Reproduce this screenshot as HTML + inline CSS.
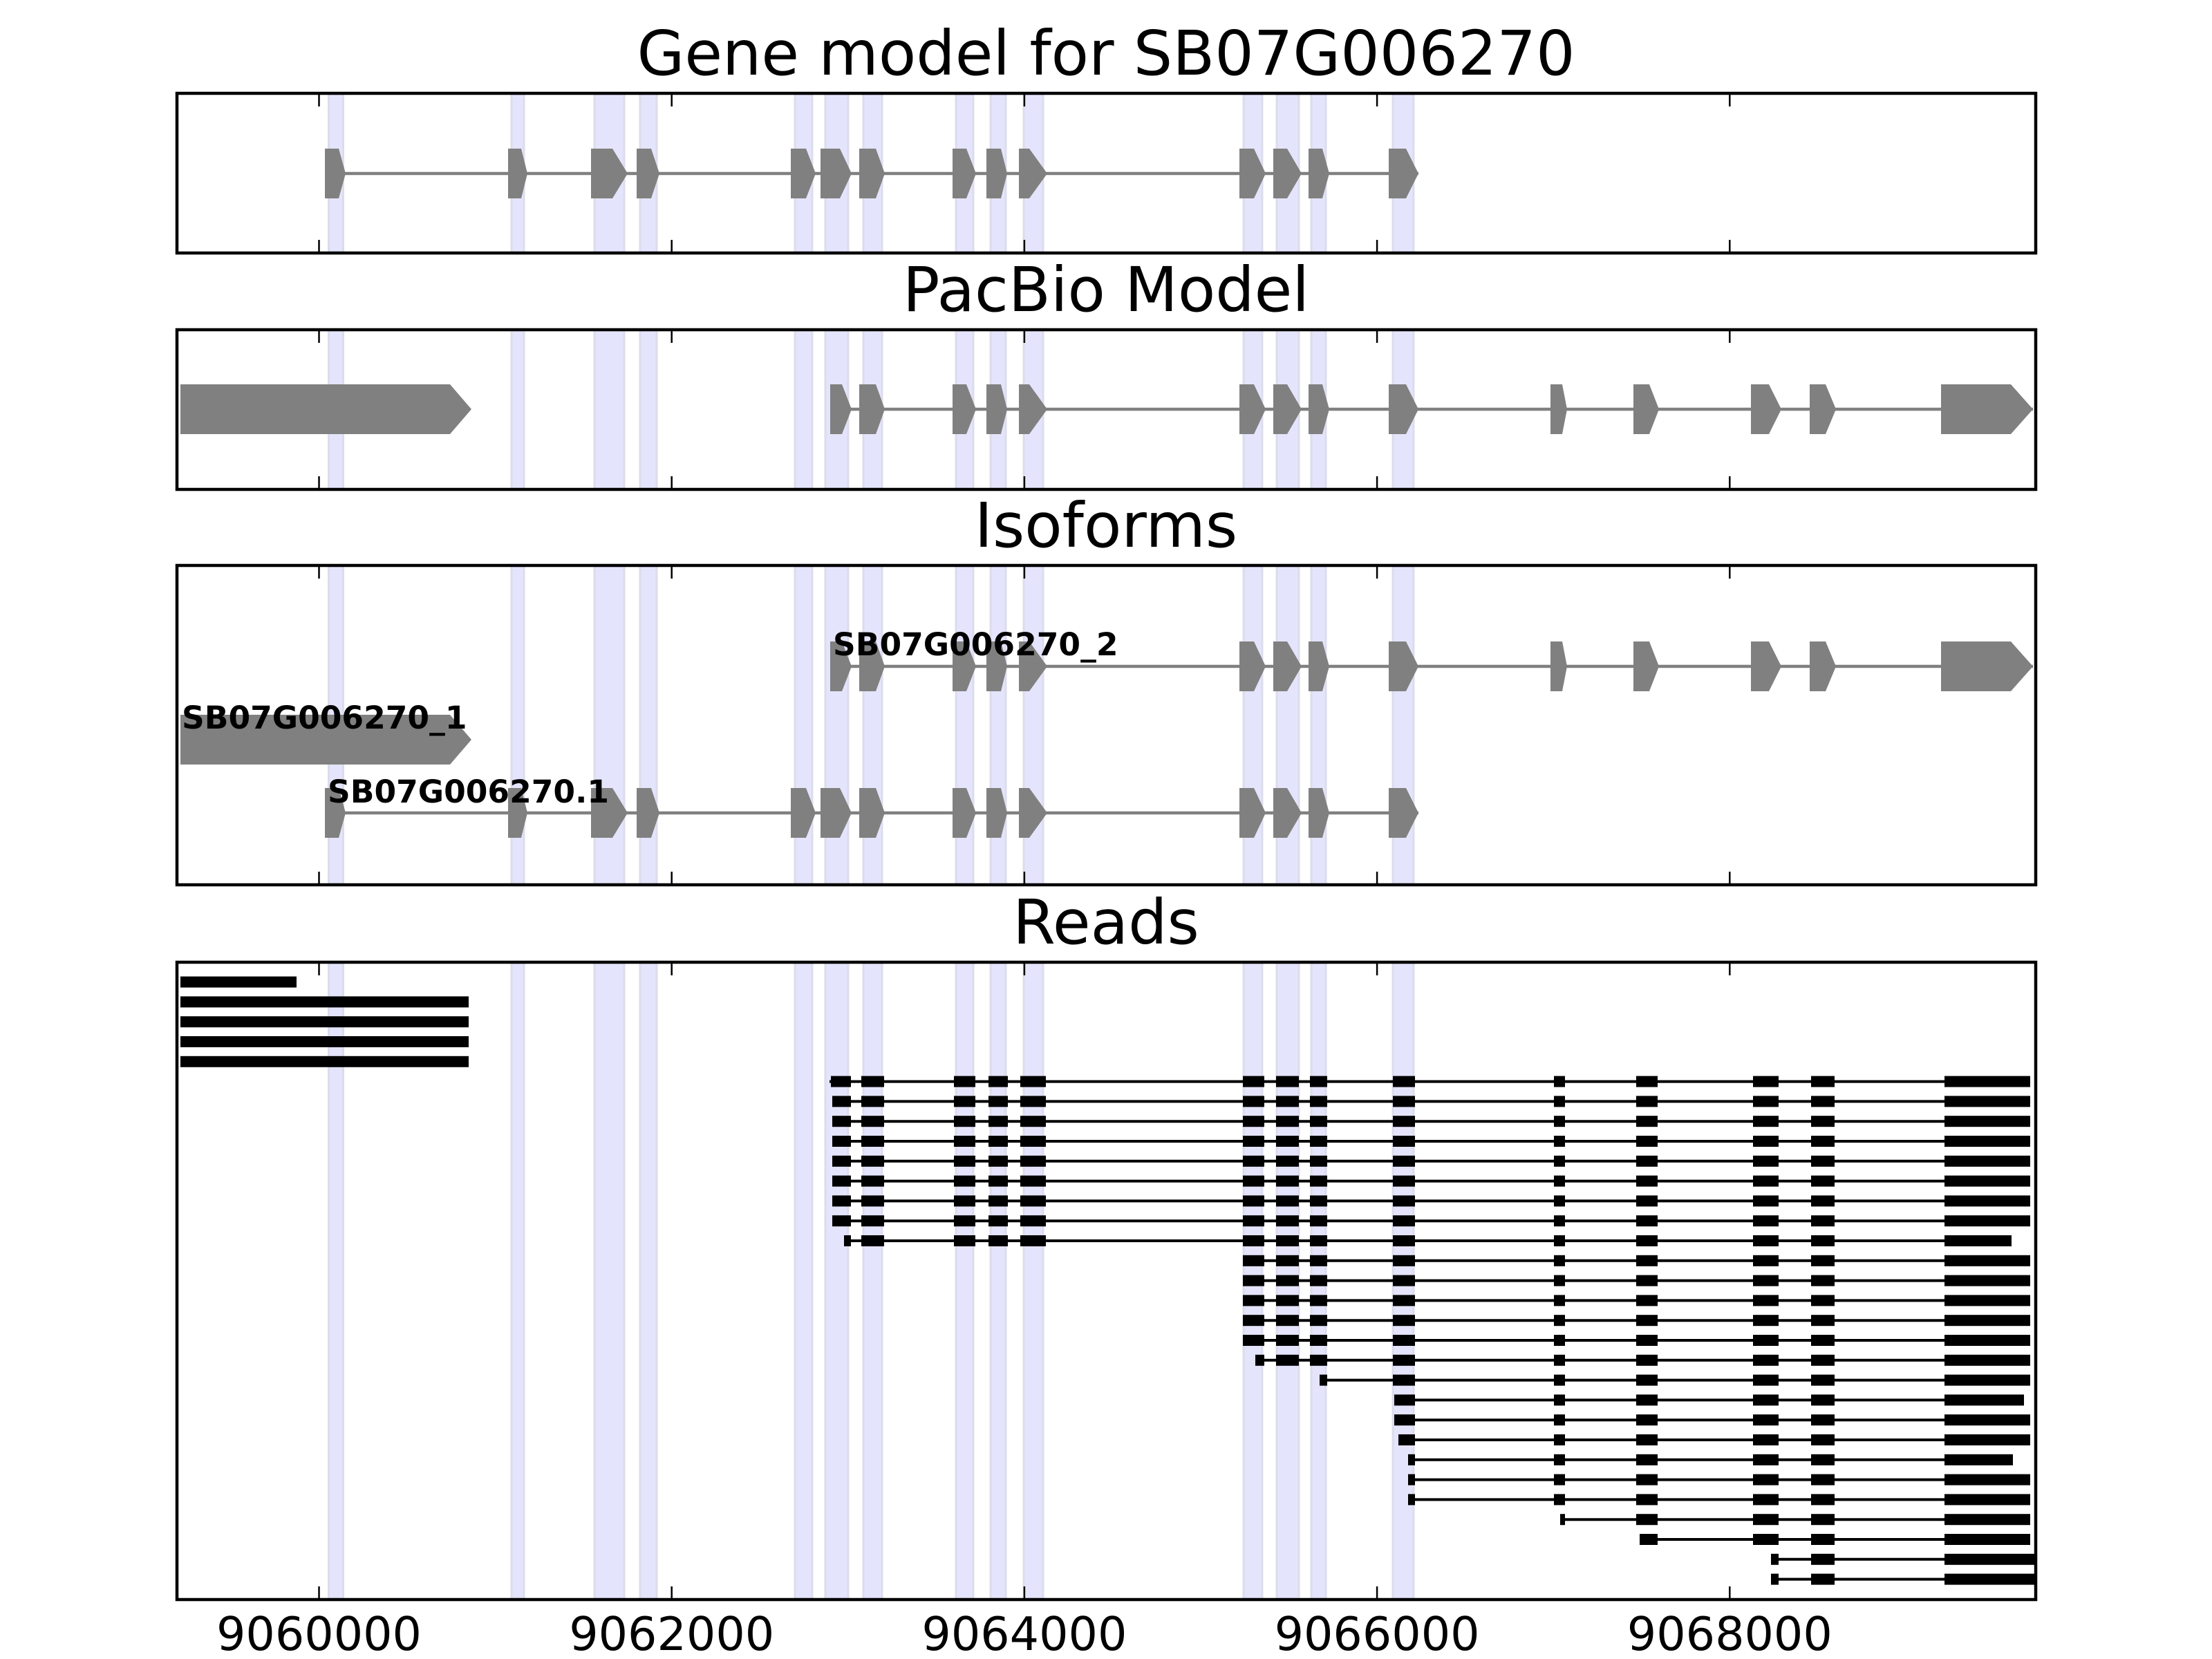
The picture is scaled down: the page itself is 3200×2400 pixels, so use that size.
<!DOCTYPE html>
<html><head><meta charset="utf-8"><style>
html,body{margin:0;padding:0;background:#fff;}
svg{display:block;}
text{font-family:"DejaVu Sans","Liberation Sans",sans-serif;}
</style></head><body>
<svg id="s" xmlns="http://www.w3.org/2000/svg" width="3200" height="2400" viewBox="0 0 3200 2400">
<rect width="3200" height="2400" fill="#fff"/>
<g id="bg"></g>
<g id="fg"></g>
<g font-size="88.9" text-anchor="middle" fill="#000">
<text x="1600" y="108">Gene model for SB07G006270</text>
<text x="1600" y="450">PacBio Model</text>
<text x="1600" y="791">Isoforms</text>
<text x="1600" y="1365">Reads</text>
</g>
<g font-size="45.5" font-weight="bold" fill="#000">
<text x="1205" y="948">SB07G006270_2</text>
<text x="263" y="1054">SB07G006270_1</text>
<text x="474" y="1161">SB07G006270.1</text>
</g>
<g font-size="66.7" text-anchor="middle" fill="#000">
<text x="461.5" y="2387">9060000</text>
<text x="971.7" y="2387">9062000</text>
<text x="1481.9" y="2387">9064000</text>
<text x="1992.1" y="2387">9066000</text>
<text x="2502.3" y="2387">9068000</text>
</g>
</svg>
<script>
(function(){
var NS="http://www.w3.org/2000/svg";
var bg=document.getElementById("bg"),fg=document.getElementById("fg");
function el(p,t,a){var e=document.createElementNS(NS,t);for(var k in a)e.setAttribute(k,a[k]);p.appendChild(e);return e;}
var X0=256,X1=2945;
var P=[[135,366],[477,708],[818,1280],[1392,2314]];
var B=[[475.5,496.5],[740,758],[860,903],[926,950],[1150,1175],[1194,1227],[1249,1276],[1383,1408],[1433,1455],[1481,1509],[1799,1826],[1847,1879],[1897,1918],[2015,2045]];
P.forEach(function(p){B.forEach(function(b){el(bg,"rect",{x:b[0],y:p[0],width:b[1]-b[0],height:p[1]-p[0],fill:"#e4e4fc",stroke:"#dcdcec","stroke-width":3});});});
var GR="#808080";
function ex(e,yc){var h=36;el(fg,"polygon",{points:e[0]+","+(yc-h)+" "+e[1]+","+(yc-h)+" "+e[2]+","+yc+" "+e[1]+","+(yc+h)+" "+e[0]+","+(yc+h),fill:GR});}
function line(a,b,y,c,w){el(fg,"line",{x1:a,x2:b,y1:y,y2:y,stroke:c,"stroke-width":w});}
var G=[[470,490,500],[735,754,763],[855,886,908],[921,942,954],[1144,1166,1180],[1187,1215,1232],[1243,1267,1280],[1378,1398,1412],[1427,1448,1457],[1474,1489,1515],[1793,1814,1831],[1842,1862,1883],[1893,1913,1923],[2009,2034,2052]];
var PB=[[1201,1218,1232]].concat(G.slice(6)).concat([[2243,2260,2267],[2363,2386,2400],[2533,2559,2577],[2618,2641,2656],[2808,2909,2941]]);
function model(L,yc){line(L[0][0],L[L.length-1][2],yc,GR,4.6);L.forEach(function(e){ex(e,yc);});}
model(G,251);
model(PB,592);
ex([261,651,682],592);
model(PB,964);
ex([261,651,682],1070);
model(G,1176);
// reads
var RB=[[1202,1231],[1246,1279],[1380,1411],[1430,1458],[1476,1513],[1798,1829],[1846,1879],[1895,1920],[2015,2047],[2248,2264],[2367,2398],[2536,2573],[2620,2654],[2813,2937]];
function ry(k){return 1420.6+28.8*k;}
function blk(a,b,y){el(fg,"rect",{x:a,y:y-8,width:b-a,height:16,fill:"#000"});}
blk(261,429,ry(0));for(var k=1;k<5;k++)blk(261,678,ry(k));
var rows=[];
for(var i=0;i<26;i++){var s,e=2937;
 if(i==0)s=1200;else if(i<8)s=1204;else if(i==8){s=1221;e=2910;}
 else if(i<14)s=1798;else if(i==14)s=1816;else if(i==15)s=1909;
 else if(i==16){s=2017;e=2928;}else if(i==17)s=2017;else if(i==18)s=2023;
 else if(i==19){s=2037;e=2912;}else if(i<22)s=2037;else if(i==22)s=2257;
 else if(i==23)s=2372;else{s=2562;e=2945;}
 var y=ry(5+i);
 line(s,e,y,"#000",4);
 RB.forEach(function(b){var a=Math.max(b[0],s),c=b[1];if(b===RB[RB.length-1])c=e;if(c>a&&b[1]>s)blk(a,c,y);});
}
// frames & ticks
var T=[461.5,971.7,1481.9,1992.1,2502.3];
P.forEach(function(p){
 T.forEach(function(t){el(fg,"line",{x1:t,x2:t,y1:p[0],y2:p[0]+19,stroke:"#000","stroke-width":2.5});el(fg,"line",{x1:t,x2:t,y1:p[1],y2:p[1]-19,stroke:"#000","stroke-width":2.5});});
 el(fg,"rect",{x:X0,y:p[0],width:X1-X0,height:p[1]-p[0],fill:"none",stroke:"#000","stroke-width":4.5});
});
})();
</script>
</body></html>
